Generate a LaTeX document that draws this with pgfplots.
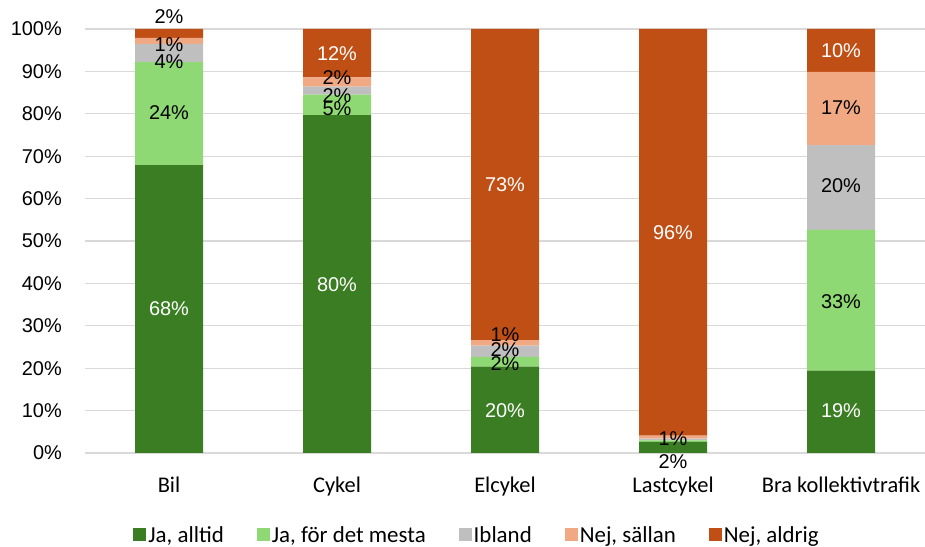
\documentclass[border=0pt]{standalone}
\usepackage{pgfplots}
\usepackage{pgfplotstable}
\pgfplotsset{compat=1.18}
\usepackage{fontspec}
\setmainfont{Liberation Sans}
\newfontfamily\catfont{Carlito}

\definecolor{jaAlltid}{HTML}{3A7D22}
\definecolor{jaMesta}{HTML}{8ED973}
\definecolor{ibland}{HTML}{BFBFBF}
\definecolor{nejSallan}{HTML}{F1A983}
\definecolor{nejAldrig}{HTML}{C04F15}
\definecolor{gridgray}{HTML}{D9D9D9}

% Share of answers (percent) per category
\pgfplotstableread{
x alltid mesta ibland sallan aldrig
0 67.9  24.3  4.3  1.4   2.1
1 79.7   4.8  1.9  2.2  11.4
2 20.35  2.35 2.6  1.35 73.35
3  2.6   0.4  0.4  0.7  95.9
4 19.4  33.2 20.0 17.3  10.1
}\shares

% Data labels: position (percent) and rounded value
\pgfplotstableread{
x y label
0 34.0 68
1 39.6 80
2 10.1 20
4 10.1 19
1 94.3 12
2 63.4 73
3 51.9 96
4 95.0 10
}\whitelabels

\pgfplotstableread{
x y label
0 102.9 2
0 96.2 1
0 92.3 4
0 80.2 24
1 88.6 2
1 84.2 2
1 81.1 5
2 27.8 1
2 24.5 2
2 21.0 2
3 3.5 1
3 -2.1 2
4 81.4 17
4 63.0 20
4 35.8 33
}\blacklabels

\pgfplotsset{
  frame/.style={
    at={(85bp,94bp)}, anchor=south west,
    scale only axis, width=840bp, height=424bp,
    xmin=-0.5, xmax=4.5, ymin=0, ymax=100,
  }
}

\begin{document}
\begin{tikzpicture}
\useasboundingbox (0,0) rectangle (925bp,547bp);
\begin{axis}[
  frame,
  ybar stacked, bar width=68bp,
  axis x line*=bottom, axis y line*=left,
  y axis line style={draw=none},
  x axis line style={draw=gridgray, line width=1.3bp},
  major tick length=0pt,
  ymajorgrids, grid style={gridgray, line width=1.3bp},
  xtick={0,1,2,3,4},
  xticklabels={Bil,Cykel,Elcykel,Lastcykel,Bra kollektivtrafik},
  ytick={0,10,...,100},
  yticklabels={0\%,10\%,20\%,30\%,40\%,50\%,60\%,70\%,80\%,90\%,100\%},
  yticklabel style={anchor=east, inner sep=0pt, xshift=-23bp, font=\fontsize{20}{24}\selectfont},
  xticklabel style={anchor=base, inner sep=0pt, yshift=-39bp, font=\catfont\fontsize{22.5}{26}\selectfont},
  legend columns=-1,
  legend style={at={(0.4667,-0.193)}, anchor=center, draw=none, fill=none,
    font=\catfont\fontsize{23}{26}\selectfont,
    /tikz/every even column/.append style={column sep=31bp}},
  legend image code/.code={\fill[#1] (-3bp,-6.5bp) rectangle (10bp,6.5bp);},
]
\addplot[fill=jaAlltid, draw=none] table[x=x, y=alltid] {\shares};
\addplot[fill=jaMesta, draw=none] table[x=x, y=mesta] {\shares};
\addplot[fill=ibland, draw=none] table[x=x, y=ibland] {\shares};
\addplot[fill=nejSallan, draw=none] table[x=x, y=sallan] {\shares};
\addplot[fill=nejAldrig, draw=none] table[x=x, y=aldrig] {\shares};
\legend{{Ja{,} alltid}, {Ja{,} för det mesta}, Ibland, {Nej{,} sällan}, {Nej{,} aldrig}}
\end{axis}

\begin{axis}[
  frame, hide axis, clip=false,
  point meta=explicit symbolic,
  nodes near coords={\pgfplotspointmeta\%},
  every node near coord/.append style={anchor=center, inner sep=0pt,
    font=\fontsize{20}{24}\selectfont},
]
\addplot[draw=none, mark=none, every node near coord/.append style={text=white}]
  table[x=x, y=y, meta=label] {\whitelabels};
\addplot[draw=none, mark=none, every node near coord/.append style={text=black}]
  table[x=x, y=y, meta=label] {\blacklabels};
\end{axis}
\end{tikzpicture}
\end{document}
